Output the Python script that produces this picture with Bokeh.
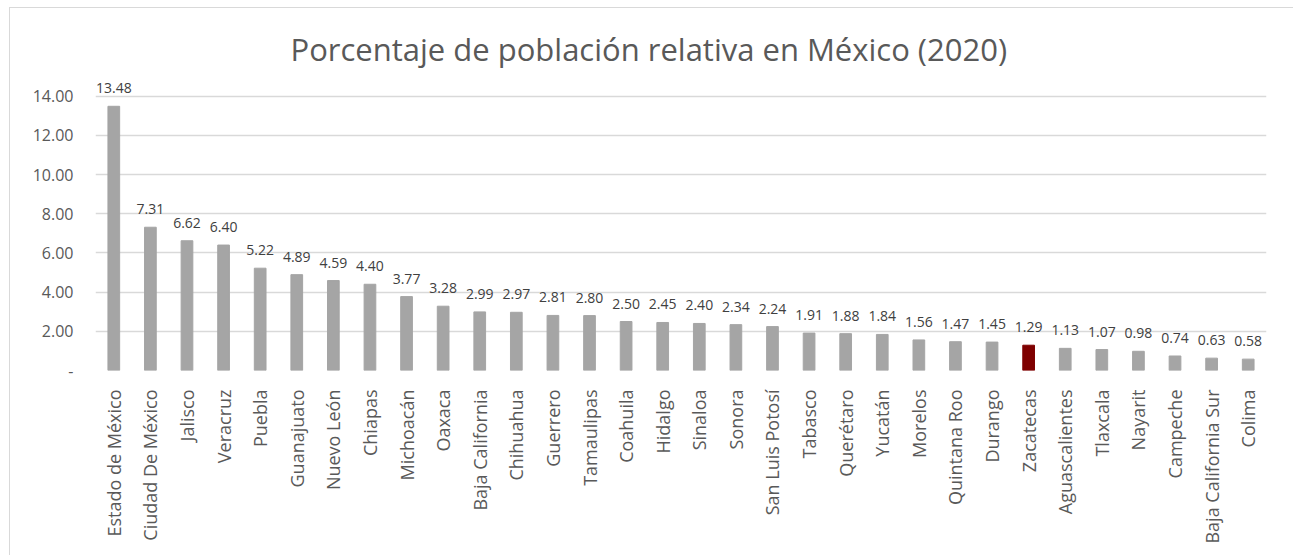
from bokeh.plotting import figure
from bokeh.models import ColumnDataSource, LabelSet, NumeralTickFormatter, FixedTicker
from bokeh.core.properties import value
from bokeh.embed import file_html
from bokeh.resources import INLINE
from math import pi

states = ["Estado de México", "Ciudad De México", "Jalisco", "Veracruz", "Puebla", "Guanajuato",
          "Nuevo León", "Chiapas", "Michoacán", "Oaxaca", "Baja California", "Chihuahua", "Guerrero",
          "Tamaulipas", "Coahuila", "Hidalgo", "Sinaloa", "Sonora", "San Luis Potosí", "Tabasco",
          "Querétaro", "Yucatán", "Morelos", "Quintana Roo", "Durango", "Zacatecas", "Aguascalientes",
          "Tlaxcala", "Nayarit", "Campeche", "Baja California Sur", "Colima"]
values = [13.48, 7.31, 6.62, 6.40, 5.22, 4.89, 4.59, 4.40, 3.77, 3.28, 2.99, 2.97, 2.81, 2.80,
          2.50, 2.45, 2.40, 2.34, 2.24, 1.91, 1.88, 1.84, 1.56, 1.47, 1.45, 1.29, 1.13, 1.07,
          0.98, 0.74, 0.63, 0.58]
highlight = "Zacatecas"
y_ticks = [0, 2, 4, 6, 8, 10, 12, 14]

colors = ["#7f0000" if s == highlight else "#a5a5a5" for s in states]
labels = [f"{v:.2f}" for v in values]
src = ColumnDataSource(dict(x=states, y=values, c=colors, t=labels))

p = figure(x_range=states, y_range=(0, 15), width=1284, height=548,
           output_backend="svg", toolbar_location=None,
           min_border_left=85, min_border_right=28, min_border_top=68, min_border_bottom=186)
p.x_range.range_padding = 0
p.styles = {"border-top": "1px solid #d9d9d9", "border-left": "1px solid #d9d9d9",
            "margin-left": "9px", "margin-top": "7px"}

p.vbar(x="x", top="y", width=0.32, color="c", source=src)

p.add_layout(LabelSet(x="x", y="y", text="t", source=src, y_offset=13, text_align="center",
                      text_baseline="bottom", text_font_size="14px", text_color="#404040",
                      text_font=value("Open Sans")))

p.title.text = "Porcentaje de población relativa en México (2020)"
p.title.align = "left"
p.title.offset = 195
p.title.text_font = "Open Sans"
p.title.text_font_style = "normal"
p.title.text_font_size = "31px"
p.title.text_color = "#595959"
p.title.standoff = 14

p.outline_line_color = None
p.xgrid.grid_line_color = None
p.ygrid.grid_line_color = "#d9d9d9"
p.ygrid.grid_line_width = 1.5

p.yaxis.ticker = FixedTicker(ticks=y_ticks)
p.yaxis.formatter = NumeralTickFormatter(format="0.00")
p.yaxis.major_label_overrides = {0: "-"}
p.yaxis.axis_line_color = None
p.yaxis.major_tick_line_color = None
p.yaxis.minor_tick_line_color = None
p.yaxis.major_label_text_font = "Open Sans"
p.yaxis.major_label_text_font_size = "16px"
p.yaxis.major_label_text_color = "#595959"
p.yaxis.major_label_standoff = 16

p.xaxis.axis_line_color = None
p.xaxis.major_tick_line_color = None
p.xaxis.major_label_orientation = pi / 2
p.xaxis.major_label_text_font = "Open Sans"
p.xaxis.major_label_text_font_size = "18px"
p.xaxis.major_label_text_color = "#595959"
p.xaxis.major_label_standoff = 13

open("out.html", "w").write(file_html(p, INLINE))
